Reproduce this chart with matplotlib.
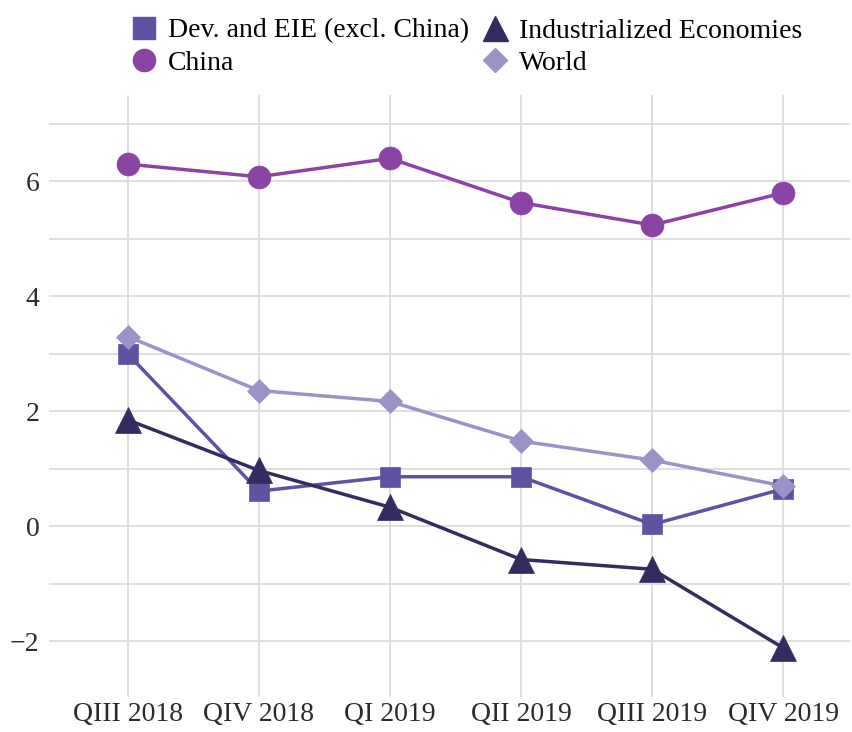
import matplotlib
matplotlib.use("Agg")
import matplotlib.pyplot as plt
import numpy as np

quarters = ["QIII 2018", "QIV 2018", "QI 2019", "QII 2019", "QIII 2019", "QIV 2019"]
dev_eie = [3.0, 0.61, 0.86, 0.86, 0.03, 0.65]
china = [6.3, 6.08, 6.4, 5.63, 5.24, 5.8]
industrialized = [1.85, 0.97, 0.33, -0.58, -0.75, -2.12]
world = [3.3, 2.36, 2.17, 1.48, 1.15, 0.7]

plt.rcParams['font.family'] = ['Liberation Serif', 'DejaVu Serif']

fig = plt.figure(figsize=(8.52, 7.32), dpi=100)
ax = fig.add_axes([0.0575, 0.048, 0.9405, 0.822])

x = np.arange(len(quarters))
series = [
    ("Dev. and EIE (excl. China)", dev_eie, "#5f52a3", "s", 15, 16),
    ("China", china, "#8c43a6", "o", 16.5, 16),
    ("Industrialized Economies", industrialized, "#352b60", "^", 19, 18),
    ("World", world, "#9d92c8", "D", 12.5, 12),
]
handles = []
for name, vals, col, mk, ms, lms in series:
    ax.plot(x, vals, color=col, lw=2.5, zorder=3)
    ax.plot(x, vals, linestyle="none", marker=mk, markersize=ms, color=col,
            markeredgecolor=col, markeredgewidth=0.5, zorder=4)
    h, = ax.plot([], [], linestyle="none", marker=mk, markersize=lms, color=col)
    h.set_label(name)
    handles.append(h)

ax.set_xlim(-0.6, 5.51)
ax.set_ylim(-2.97, 7.5)
ax.set_xticks(x)
ax.set_xticklabels(quarters)
ax.set_yticks([-2, 0, 2, 4, 6])
ax.set_yticklabels(["\u22122", "0", "2", "4", "6"])
ax.set_yticks([-1, 1, 3, 5, 7], minor=True)
ax.grid(True, which="both", axis="y", color="#dcdcdc", lw=1.3)
ax.grid(True, which="major", axis="x", color="#dcdcdc", lw=1.3)
ax.set_axisbelow(True)
for s in ax.spines.values():
    s.set_visible(False)
ax.tick_params(which="both", length=0, labelsize=20, colors="#2e2a28", pad=4)
ax.tick_params(axis="y", pad=7)

fig.legend(handles=handles, loc="upper left", bbox_to_anchor=(0.135, 0.998), ncol=2,
           frameon=False, fontsize=20, handlelength=0.9, handletextpad=0.4,
           columnspacing=0.5, labelspacing=0.25, borderaxespad=0.2)

fig.savefig("out.png", dpi=100)
